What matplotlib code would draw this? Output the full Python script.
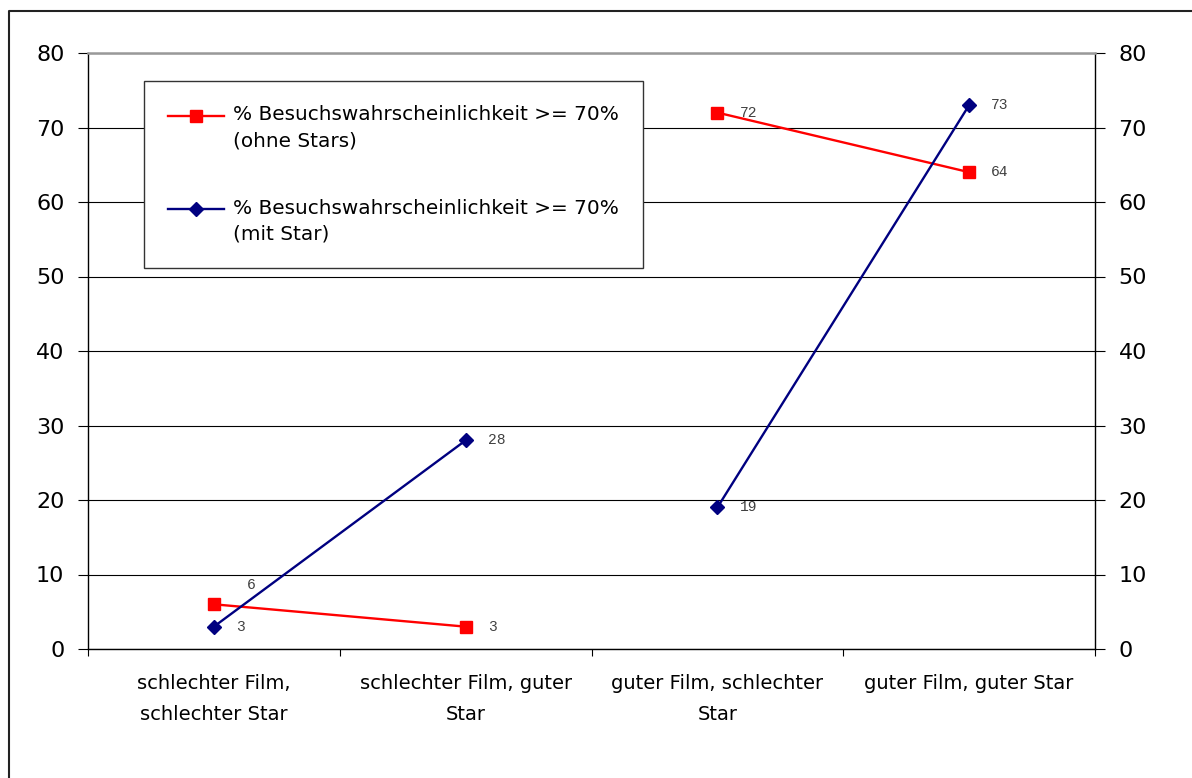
import numpy as np
import matplotlib
matplotlib.use("Agg")
import matplotlib.pyplot as plt
from matplotlib.legend_handler import HandlerLine2D
from matplotlib.lines import Line2D

# Categories and the two series (percent with visit probability >= 70%)
categories = [
    "schlechter Film,\nschlechter Star",
    "schlechter Film, guter\nStar",
    "guter Film, schlechter\nStar",
    "guter Film, guter Star",
]
ohne_stars = [6, 3, 72, 64]
mit_star = [3, 28, 19, 73]
label_ohne = "% Besuchswahrscheinlichkeit >= 70%\n(ohne Stars)"
label_mit = "% Besuchswahrscheinlichkeit >= 70%\n(mit Star)"
y_ticks = [0, 10, 20, 30, 40, 50, 60, 70, 80]

# Lines are drawn only within each pair of categories
segments = [(0, 1), (2, 3)]

plt.rcParams["font.family"] = ["DejaVu Sans"]

W, H = 1192, 778
fig = plt.figure(figsize=(W / 100, H / 100), dpi=100)
ax = fig.add_axes([88 / W, 1 - 649 / H, (1095 - 88) / W, (649 - 53) / H])

RED = "#FF0000"
NAVY = "#000080"
LW = 1.7

x = np.arange(len(categories))
for a, b in segments:
    idx = [a, b]
    ax.plot(x[idx], np.array(ohne_stars)[idx], color=RED, lw=LW,
            marker="s", ms=8.5, mfc=RED, mec=RED, zorder=3)
    ax.plot(x[idx], np.array(mit_star)[idx], color=NAVY, lw=LW,
            marker="D", ms=7.0, mfc=NAVY, mec=NAVY, zorder=4)

# Value labels
label_kw = dict(textcoords="offset points", fontsize=10.5, color="#404040",
                family=["Liberation Mono", "DejaVu Sans Mono"], va="center", ha="left")
for i, v in enumerate(ohne_stars):
    off = (24, 14) if i == 0 else (16, 0)
    ax.annotate(f"{v:.0f}", (x[i], v), xytext=off, **label_kw)
for i, v in enumerate(mit_star):
    ax.annotate(f"{v:.0f}", (x[i], v), xytext=(16, 0), **label_kw)

ax.set_xlim(-0.5, len(categories) - 0.5)
ax.set_ylim(0, 80)

# Category boundaries as tick marks, names centred between them
ax.set_xticks(np.arange(-0.5, len(categories), 1.0))
ax.set_xticklabels([])
ax.set_xticks(x, minor=True)
ax.set_xticklabels(categories, minor=True, fontsize=14, linespacing=1.8)
ax.tick_params(axis="x", which="major", direction="out", length=5, width=0.8, color="black")
ax.tick_params(axis="x", which="minor", length=0, pad=18)

ax.set_yticks(y_ticks)
ax.tick_params(axis="y", which="both", direction="out", length=7, width=0.8,
               left=True, right=True, labelleft=True, labelright=True,
               labelsize=16, pad=10)

ax.yaxis.grid(True, color="black", lw=0.8)
ax.set_axisbelow(True)
for side in ("left", "right", "bottom"):
    ax.spines[side].set_color("black")
    ax.spines[side].set_linewidth(1.0)
ax.spines["top"].set_color("#999999")
ax.spines["top"].set_linewidth(1.8)


class FirstLineHandler(HandlerLine2D):
    """Places the legend line next to the first text line of a two-line label."""

    def __init__(self, shift, **kw):
        super().__init__(**kw)
        self.shift = shift

    def create_artists(self, legend, orig_handle, xdescent, ydescent, width,
                       height, fontsize, trans):
        arts = super().create_artists(legend, orig_handle, xdescent, ydescent,
                                      width, height, fontsize, trans)
        for a in arts:
            a.set_ydata(np.asarray(a.get_ydata()) + self.shift)
        return arts


h1 = Line2D([], [], color=RED, lw=LW, marker="s", ms=8.5, mfc=RED, mec=RED)
h2 = Line2D([], [], color=NAVY, lw=LW, marker="D", ms=7.0, mfc=NAVY, mec=NAVY)
handler = FirstLineHandler(shift=9, numpoints=1)
leg = ax.legend([h1, h2], [label_ohne, label_mit], loc="upper left",
                bbox_to_anchor=(144 / W, 1 - 81 / H), bbox_transform=fig.transFigure,
                borderaxespad=0, borderpad=1.2, handlelength=2.8, handletextpad=0.45,
                labelspacing=2.4, fontsize=14.4, fancybox=False, framealpha=1,
                edgecolor="#333333", handler_map={Line2D: handler})
leg.get_frame().set_linewidth(1.0)
for t in leg.get_texts():
    t.set_linespacing(1.5)

# Outer chart border (left and top edges)
fig.add_artist(Line2D([9 / W, 9 / W, 1.05], [-0.05, 1 - 11 / H, 1 - 11 / H],
                      transform=fig.transFigure, color="#222222", lw=1.5))

fig.savefig("out.png", dpi=100)
